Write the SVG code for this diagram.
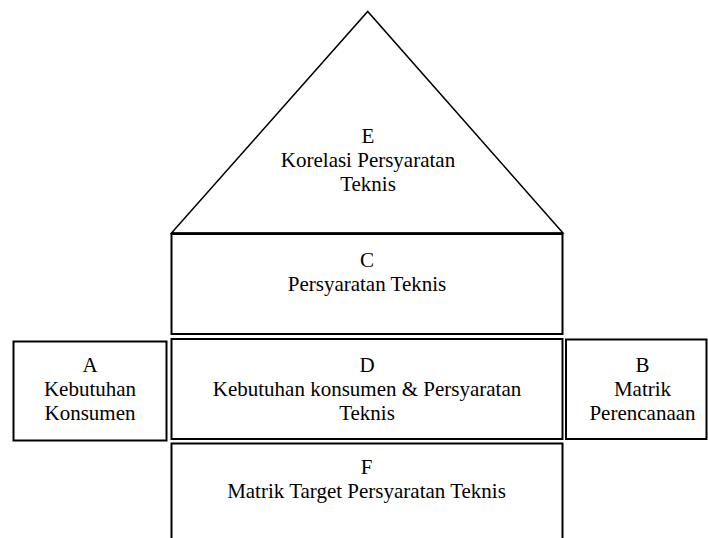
<svg xmlns="http://www.w3.org/2000/svg" width="708" height="538" viewBox="0 0 708 538">
  <style>
    .box { fill: #ffffff; stroke: #000000; stroke-width: 2; }
    .roof { fill: #ffffff; stroke: #000000; stroke-width: 1.5; stroke-linejoin: miter; }
    .lbl { font-family: 'Liberation Serif', Tinos, 'Times New Roman', 'DejaVu Serif', serif; font-size: 21px; fill: #000000; text-anchor: middle; }
  </style>
  <rect x="0" y="0" width="708" height="538" fill="#ffffff"/>
  <g id="E">
    <path class="roof" d="M171.5,233 L367.7,11.5 L563,233 Z"/>
    <text class="lbl" font-family="Liberation Serif, serif" x="368" y="143">E</text>
    <text class="lbl" font-family="Liberation Serif, serif" x="368" y="167">Korelasi Persyaratan</text>
    <text class="lbl" font-family="Liberation Serif, serif" x="368" y="191">Teknis</text>
  </g>
  <g id="C">
    <rect class="box" x="171.5" y="234" width="391" height="100"/>
    <line x1="171.5" y1="233.5" x2="562.5" y2="233.5" stroke="#000" stroke-width="2"/>
    <text class="lbl" font-family="Liberation Serif, serif" x="367" y="267">C</text>
    <text class="lbl" font-family="Liberation Serif, serif" x="367" y="291">Persyaratan Teknis</text>
  </g>
  <g id="D">
    <rect class="box" x="171.5" y="339" width="391" height="100"/>
    <text class="lbl" font-family="Liberation Serif, serif" x="367" y="372">D</text>
    <text class="lbl" font-family="Liberation Serif, serif" x="367" y="396">Kebutuhan konsumen &amp; Persyaratan</text>
    <text class="lbl" font-family="Liberation Serif, serif" x="367" y="420">Teknis</text>
  </g>
  <g id="A">
    <rect class="box" x="13.5" y="341.5" width="153" height="99"/>
    <text class="lbl" font-family="Liberation Serif, serif" x="90" y="372">A</text>
    <text class="lbl" font-family="Liberation Serif, serif" x="90" y="396">Kebutuhan</text>
    <text class="lbl" font-family="Liberation Serif, serif" x="90" y="420">Konsumen</text>
  </g>
  <g id="B">
    <rect class="box" x="566" y="339.5" width="140.5" height="99.5"/>
    <text class="lbl" font-family="Liberation Serif, serif" x="642.5" y="372">B</text>
    <text class="lbl" font-family="Liberation Serif, serif" x="642.5" y="396">Matrik</text>
    <text class="lbl" font-family="Liberation Serif, serif" x="642.5" y="420">Perencanaan</text>
  </g>
  <g id="F">
    <rect class="box" x="171.5" y="443.5" width="391" height="110"/>
    <text class="lbl" font-family="Liberation Serif, serif" x="366.5" y="474">F</text>
    <text class="lbl" font-family="Liberation Serif, serif" x="366.5" y="498">Matrik Target Persyaratan Teknis</text>
  </g>
  <g id="connectors"/>
</svg>
